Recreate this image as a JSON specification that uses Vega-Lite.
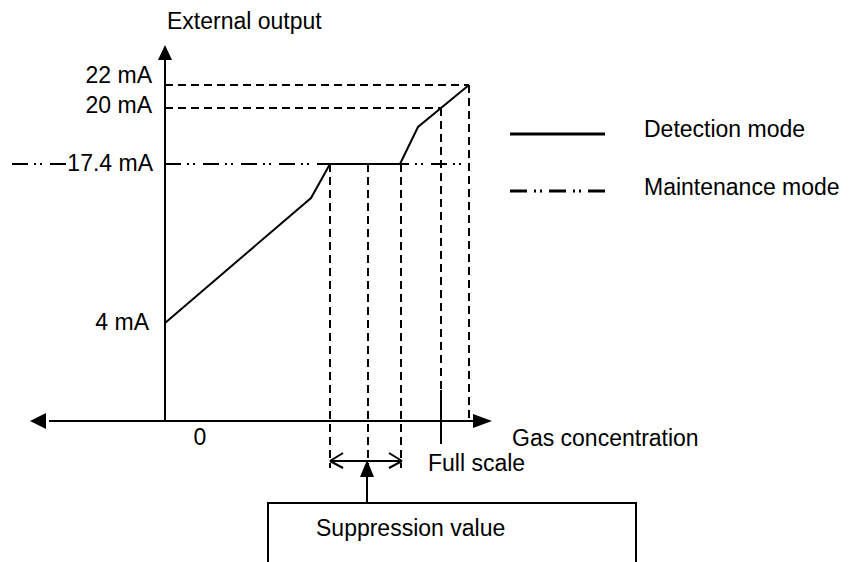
{
  "$schema": "https://vega.github.io/schema/vega-lite/v6.json",
  "width": 850,
  "height": 562,
  "autosize": {"type": "none"},
  "padding": 0,
  "background": "white",
  "config": {
    "view": {"stroke": null},
    "text": {"font": "Liberation Sans", "fontSize": 23, "color": "black", "baseline": "alphabetic"}
  },
  "datasets": {
    "solid": [
      {"part": "y-axis", "x": 0, "y": 0, "x2": 0, "y2": 362},
      {"part": "x-axis", "x": -116, "y": 0, "x2": 314, "y2": 0},
      {"part": "full scale tick", "x": 276, "y": 31, "x2": 276, "y2": -23},
      {"part": "range", "x": 165, "y": -40, "x2": 237, "y2": -40},
      {"part": "chevron", "x": 165, "y": -40, "x2": 178, "y2": -32},
      {"part": "chevron", "x": 165, "y": -40, "x2": 178, "y2": -47},
      {"part": "chevron", "x": 237, "y": -40, "x2": 224, "y2": -32},
      {"part": "chevron", "x": 237, "y": -40, "x2": 224, "y2": -47},
      {"part": "pointer", "x": 202, "y": -55, "x2": 202, "y2": -82}
    ],
    "dashed": [
      {"x": 0, "y": 336, "x2": 304, "y2": 336},
      {"x": 0, "y": 313, "x2": 276, "y2": 313},
      {"x": 304, "y": 336, "x2": 304, "y2": 3},
      {"x": 276, "y": 313, "x2": 276, "y2": 31},
      {"x": 165, "y": 257, "x2": 165, "y2": -47},
      {"x": 203, "y": 257, "x2": 203, "y2": -47},
      {"x": 236, "y": 257, "x2": 236, "y2": -47}
    ],
    "maintenance": [
      {"x": -153, "y": 257, "x2": -99, "y2": 257},
      {"x": 0, "y": 257, "x2": 303, "y2": 257}
    ],
    "detection": [
      {"x": 0, "y": 98},
      {"x": 146, "y": 223},
      {"x": 165, "y": 257},
      {"x": 235, "y": 257},
      {"x": 253, "y": 294},
      {"x": 276, "y": 313},
      {"x": 304, "y": 336}
    ],
    "legendKeys": [
      {"mode": "Detection mode", "x": 345, "y": 287, "x2": 440, "y2": 287},
      {"mode": "Maintenance mode", "x": 345, "y": 230, "x2": 440, "y2": 230}
    ],
    "arrowheads": [
      {"dir": "up", "x": 0, "y": 368.5},
      {"dir": "left", "x": -127, "y": 0},
      {"dir": "right", "x": 317.5, "y": 0},
      {"dir": "pointer", "x": 202, "y": -47.5}
    ],
    "box": [
      {"x": 103, "x2": 471, "y": -82, "y2": -170}
    ],
    "labels": [
      {"text": "External output", "x": 2, "y": 392, "anchor": "left"},
      {"text": "22 mA", "x": -13, "y": 338, "anchor": "right"},
      {"text": "20 mA", "x": -13, "y": 308, "anchor": "right"},
      {"text": "17.4 mA", "x": -12, "y": 250, "anchor": "right"},
      {"text": "4 mA", "x": -16, "y": 91, "anchor": "right"},
      {"text": "0", "x": 35, "y": -24, "anchor": "center"},
      {"text": "Gas concentration", "x": 347, "y": -25, "anchor": "left"},
      {"text": "Full scale", "x": 263, "y": -50, "anchor": "left"},
      {"text": "Suppression value", "x": 151, "y": -115, "anchor": "left"},
      {"text": "Detection mode", "x": 479, "y": 284, "anchor": "left"},
      {"text": "Maintenance mode", "x": 479, "y": 226, "anchor": "left"}
    ]
  },
  "encoding": {
    "x": {"field": "x", "type": "quantitative", "scale": {"domain": [-165, 685], "nice": false, "zero": false}, "axis": null},
    "y": {"field": "y", "type": "quantitative", "scale": {"domain": [-141, 421], "nice": false, "zero": false}, "axis": null}
  },
  "layer": [
    {
      "data": {"name": "box"},
      "mark": {"type": "rect", "fill": "white", "fillOpacity": 0, "stroke": "black", "strokeWidth": 2},
      "encoding": {"x2": {"field": "x2"}, "y2": {"field": "y2"}}
    },
    {
      "data": {"name": "dashed"},
      "mark": {"type": "rule", "stroke": "black", "strokeWidth": 2, "strokeDash": [8, 5]},
      "encoding": {"x2": {"field": "x2"}, "y2": {"field": "y2"}}
    },
    {
      "data": {"name": "maintenance"},
      "mark": {"type": "rule", "stroke": "black", "strokeWidth": 2, "strokeDash": [16, 6, 2, 4, 2, 8]},
      "encoding": {"x2": {"field": "x2"}, "y2": {"field": "y2"}}
    },
    {
      "data": {"name": "solid"},
      "mark": {"type": "rule", "stroke": "black", "strokeWidth": 2},
      "encoding": {"x2": {"field": "x2"}, "y2": {"field": "y2"}}
    },
    {
      "data": {"name": "detection"},
      "mark": {"type": "line", "stroke": "black", "strokeWidth": 2}
    },
    {
      "data": {"name": "legendKeys"},
      "mark": {"type": "rule", "stroke": "black", "strokeWidth": 3},
      "encoding": {
        "x2": {"field": "x2"},
        "y2": {"field": "y2"},
        "strokeDash": {
          "field": "mode",
          "type": "nominal",
          "scale": {"domain": ["Detection mode", "Maintenance mode"], "range": [[1, 0], [17, 7, 2, 4, 2, 7]]},
          "legend": null
        }
      }
    },
    {
      "data": {"name": "arrowheads"},
      "mark": {"type": "point", "filled": true, "fill": "black", "fillOpacity": 1, "strokeWidth": 0, "size": 4},
      "encoding": {
        "shape": {
          "field": "dir",
          "type": "nominal",
          "scale": {
            "domain": ["up", "left", "right", "pointer"],
            "range": ["M0,-7.5L7,7.5L-7,7.5Z", "M-8,0L8,-8L8,8Z", "M9.5,0L-9.5,-7L-9.5,7Z", "M0,-8.5L7,8.5L-7,8.5Z"]
          },
          "legend": null
        }
      }
    },
    {
      "data": {"name": "labels"},
      "transform": [{"filter": "datum.anchor === 'left'"}],
      "mark": {"type": "text", "align": "left"},
      "encoding": {"text": {"field": "text"}}
    },
    {
      "data": {"name": "labels"},
      "transform": [{"filter": "datum.anchor === 'right'"}],
      "mark": {"type": "text", "align": "right"},
      "encoding": {"text": {"field": "text"}}
    },
    {
      "data": {"name": "labels"},
      "transform": [{"filter": "datum.anchor === 'center'"}],
      "mark": {"type": "text", "align": "center"},
      "encoding": {"text": {"field": "text"}}
    }
  ]
}
